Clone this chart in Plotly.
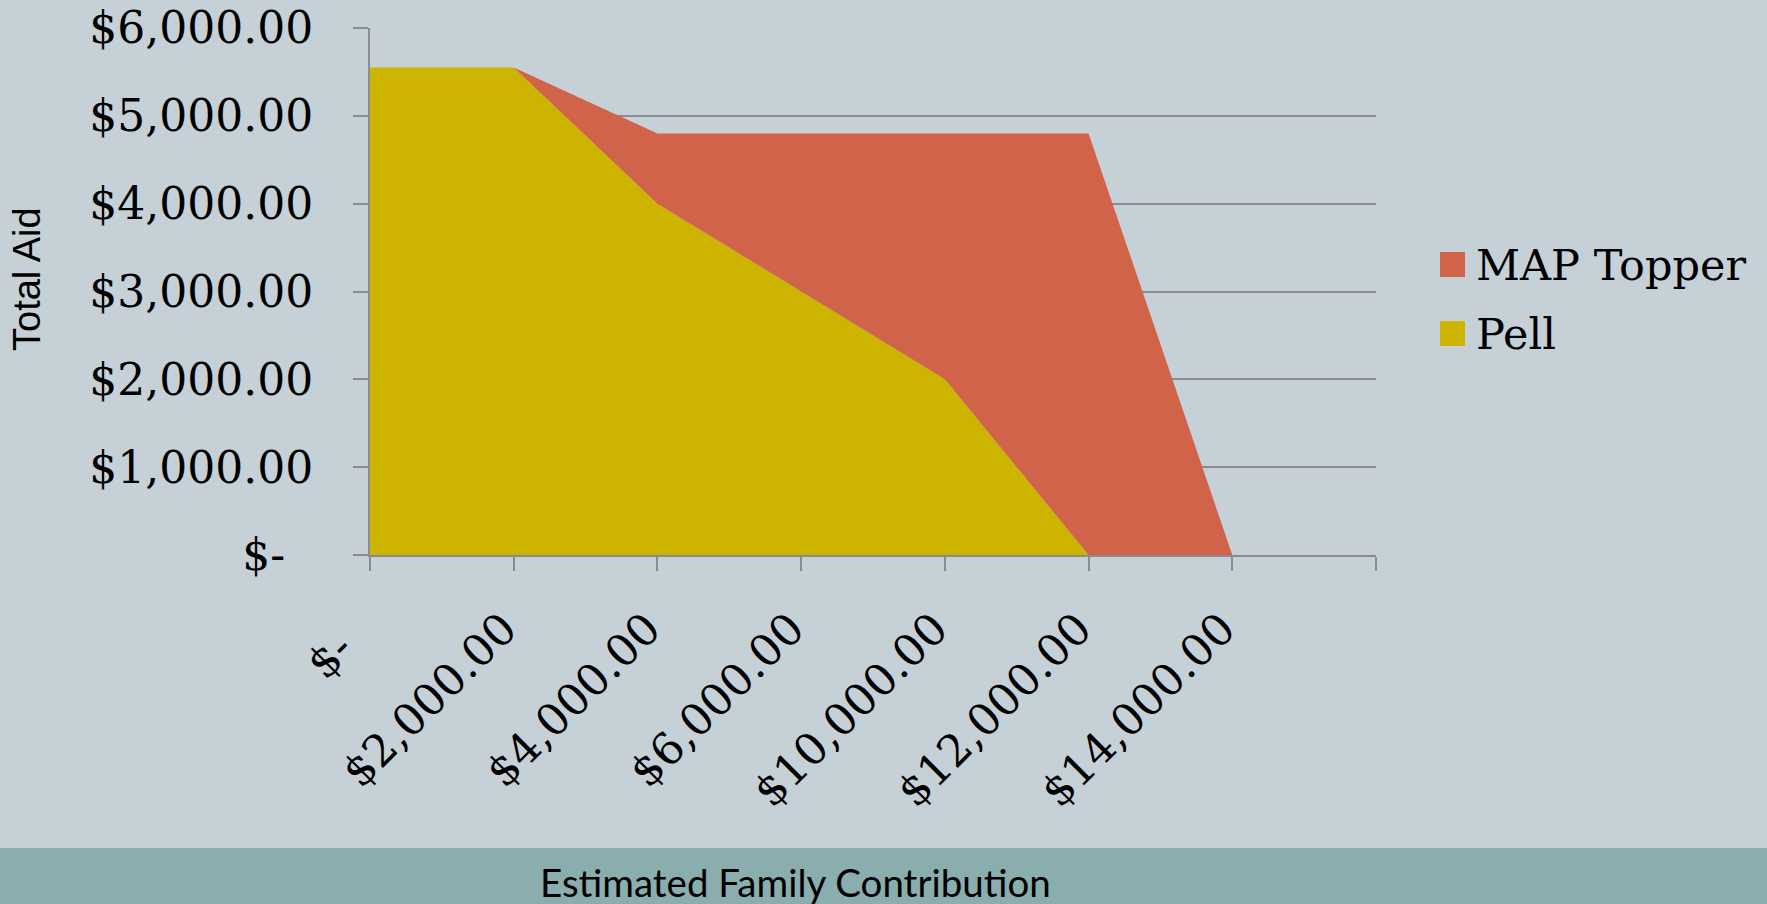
import plotly.graph_objects as go

# ---- data ----
EFC_LABELS = ["$-\u00a0\u00a0", "$2,000.00", "$4,000.00", "$6,000.00",
              "$10,000.00", "$12,000.00", "$14,000.00"]
PELL = [5550, 5550, 4000, 3000, 2000, 0, 0]
MAP_TOPPER = [0, 0, 800, 1800, 2800, 4800, 0]
SERIES_NAMES = ["MAP Topper", "Pell"]
AID_TICKS = [0, 1000, 2000, 3000, 4000, 5000, 6000]
AID_TICK_LABELS = ["$-\u00a0\u00a0", "$1,000.00", "$2,000.00", "$3,000.00",
                   "$4,000.00", "$5,000.00", "$6,000.00"]

# ---- styling ----
W, H = 1767, 904
ML, MR, MT, MB = 370, 391, 28, 349
PW, PH = W - ML - MR, H - MT - MB
BG = "#C5D1D7"
BAND = "#8AADAD"
GRID = "#8C8C8C"
COL_PELL = "#CDB400"
COL_MAP = "#D1634A"
SERIF = "DejaVu Serif"
SANS = "Liberation Sans"


def px_x(px):
    return (px - ML) / PW


def px_y(py):
    return (H - MB - py) / PH


x_pos = list(range(len(EFC_LABELS)))

fig = go.Figure()
fig.add_trace(go.Scatter(
    x=x_pos, y=PELL, name=SERIES_NAMES[1], stackgroup="aid", mode="none",
    fillcolor=COL_PELL, showlegend=False, hoverinfo="x+y+name"))
fig.add_trace(go.Scatter(
    x=x_pos, y=MAP_TOPPER, name=SERIES_NAMES[0], stackgroup="aid", mode="none",
    fillcolor=COL_MAP, showlegend=False, hoverinfo="x+y+name"))

shapes = [
    # footer band
    dict(type="rect", xref="paper", yref="paper", layer="below",
         x0=px_x(-10), x1=px_x(W + 10), y0=px_y(848), y1=px_y(H + 20),
         fillcolor=BAND, line=dict(width=0)),
]
annotations = [
    dict(text="Total Aid", xref="paper", yref="paper", x=px_x(27), y=px_y(279),
         showarrow=False, textangle=-90, xanchor="center", yanchor="middle",
         font=dict(family=SANS, size=38, color="#000000")),
    dict(text="Estimated Family Contribution", xref="paper", yref="paper",
         x=px_x(795), y=px_y(882), showarrow=False, xanchor="center",
         yanchor="middle", font=dict(family="Lato", size=38.5, color="#000000")),
]

# legend: swatch + label, top entry is the upper series in the stack
legend_rows = [(SERIES_NAMES[0], COL_MAP, 252), (SERIES_NAMES[1], COL_PELL, 321)]
for name, col, top in legend_rows:
    shapes.append(dict(type="rect", xref="paper", yref="paper",
                       x0=px_x(1440), x1=px_x(1465), y0=px_y(top), y1=px_y(top + 25),
                       fillcolor=col, line=dict(width=0)))
    annotations.append(dict(text=name, xref="paper", yref="paper",
                            x=px_x(1474), y=px_y(top + 12.5), showarrow=False,
                            xanchor="left", yanchor="middle",
                            font=dict(family=SERIF, size=43, color="#000000")))

fig.update_layout(
    width=W, height=H,
    margin=dict(l=ML, r=MR, t=MT, b=MB, pad=0, autoexpand=False),
    paper_bgcolor=BG, plot_bgcolor=BG,
    showlegend=False,
    shapes=shapes, annotations=annotations,
    xaxis=dict(range=[0, len(EFC_LABELS)], automargin=False,
               tickvals=list(range(len(EFC_LABELS) + 1)),
               ticktext=EFC_LABELS + [""],
               tickangle=-45, ticks="outside", ticklen=14, tickwidth=2,
               tickcolor=GRID, showline=True, linecolor=GRID, linewidth=2,
               showgrid=False, zeroline=False,
               ticklabelstandoff=14, ticklabelshift=-10,
               tickfont=dict(family=SERIF, size=44, color="#000000")),
    yaxis=dict(range=[0, 6000], automargin=False,
               tickvals=AID_TICKS, ticktext=AID_TICK_LABELS,
               ticks="outside", ticklen=15, tickwidth=2, tickcolor=GRID,
               showline=True, linecolor=GRID, linewidth=2,
               showgrid=True, gridcolor=GRID, gridwidth=2, zeroline=False,
               ticklabelstandoff=31,
               tickfont=dict(family=SERIF, size=44, color="#000000")),
)

fig.write_html("out.html")
